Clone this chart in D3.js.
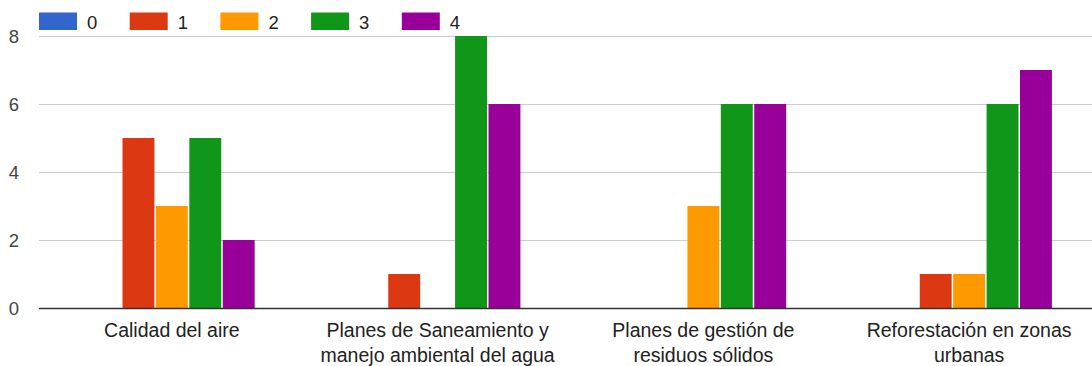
<!DOCTYPE html>
<html>
<head>
<meta charset="utf-8">
<script src="https://cdn.jsdelivr.net/npm/d3@7"></script>
<style>
  html, body { margin: 0; padding: 0; background: #fff; }
  svg { display: block; font-family: "Liberation Sans", Arial, sans-serif; }
</style>
</head>
<body>
<svg id="chart" width="1092" height="366"></svg>
<script>
// Categories (each label split into its display lines)
const categories = [
  "Calidad del aire",
  "Planes de Saneamiento y manejo ambiental del agua",
  "Planes de gestión de residuos sólidos",
  "Reforestación en zonas urbanas"
];
const categoryLines = [
  ["Calidad del aire"],
  ["Planes de Saneamiento y", "manejo ambiental del agua"],
  ["Planes de gestión de", "residuos sólidos"],
  ["Reforestación en zonas", "urbanas"]
];

// Series (rating 0..4), one value per category
const seriesNames = ["0", "1", "2", "3", "4"];
const series0 = [0, 0, 0, 0];
const series1 = [5, 1, 0, 1];
const series2 = [3, 0, 3, 1];
const series3 = [5, 8, 6, 6];
const series4 = [2, 6, 6, 7];
const seriesValues = [series0, series1, series2, series3, series4];
const seriesColors = ["#3366cc", "#dc3912", "#ff9900", "#109618", "#990099"];

const yTicks = [0, 2, 4, 6, 8];

const svg = d3.select("#chart");
const W = 1092, H = 366;
const plot = { left: 39, right: 1102, top: 36, bottom: 308 };

const x0 = d3.scaleBand()
  .domain(categories)
  .range([plot.left, plot.right])
  .paddingInner(0.377)
  .paddingOuter(0.1885);

const x1 = d3.scaleBand()
  .domain(seriesNames)
  .range([0, x0.bandwidth()])
  .paddingInner(0.045)
  .paddingOuter(0);

const y = d3.scaleLinear().domain([0, 8]).range([plot.bottom, plot.top]);

// Gridlines
svg.append("g")
  .selectAll("line")
  .data(yTicks.filter(d => d !== 0))
  .join("line")
  .attr("x1", plot.left).attr("x2", W)
  .attr("y1", d => Math.round(y(d)) + 0.5)
  .attr("y2", d => Math.round(y(d)) + 0.5)
  .attr("stroke", "#cccccc")
  .attr("stroke-width", 1);

// Y axis labels
const yAxis = d3.axisLeft(y).tickValues(yTicks).tickSize(0).tickPadding(0).tickFormat(d3.format("d"));
const yg = svg.append("g").attr("transform", `translate(19,0)`).call(yAxis);
yg.select(".domain").remove();
yg.selectAll("text")
  .attr("font-size", "18.5px")
  .attr("fill", "#444")
  .attr("font-family", "Liberation Sans, Arial, sans-serif")
  .attr("dy", "0.35em");

// Bars
const rows = categories.map((c, i) => ({
  cat: c,
  vals: seriesNames.map((s, j) => ({ s, j, v: seriesValues[j][i] }))
}));

const groups = svg.append("g")
  .selectAll("g")
  .data(rows)
  .join("g")
  .attr("transform", d => `translate(${x0(d.cat)},0)`);

groups.selectAll("rect")
  .data(d => d.vals.filter(e => e.v > 0))
  .join("rect")
  .attr("x", e => x1(e.s))
  .attr("y", e => y(e.v))
  .attr("width", x1.bandwidth())
  .attr("height", e => y(0) - y(e.v))
  .attr("fill", e => seriesColors[e.j]);

// Baseline
svg.append("line")
  .attr("x1", plot.left).attr("x2", W)
  .attr("y1", y(0) + 0.5).attr("y2", y(0) + 0.5)
  .attr("stroke", "#333")
  .attr("stroke-width", 1.3);

// Category labels
const xg = svg.append("g");
categoryLines.forEach((lines, i) => {
  const cx = x0(categories[i]) + x0.bandwidth() / 2;
  const t = xg.append("text")
    .attr("text-anchor", "middle")
    .attr("font-size", "19.5px")
    .attr("fill", "#222");
  lines.forEach((ln, k) => {
    t.append("tspan")
      .attr("x", cx)
      .attr("y", 337 + k * 25)
      .text(ln);
  });
});

// Legend
const legend = svg.append("g");
seriesNames.forEach((s, j) => {
  const lx = 39 + j * 90.7;
  legend.append("rect")
    .attr("x", lx).attr("y", 12.5)
    .attr("width", 38).attr("height", 17.5)
    .attr("fill", seriesColors[j]);
  legend.append("text")
    .attr("x", lx + 48).attr("y", 28.5)
    .attr("font-size", "18.5px")
    .attr("fill", "#222")
    .text(s);
});
</script>
</body>
</html>
